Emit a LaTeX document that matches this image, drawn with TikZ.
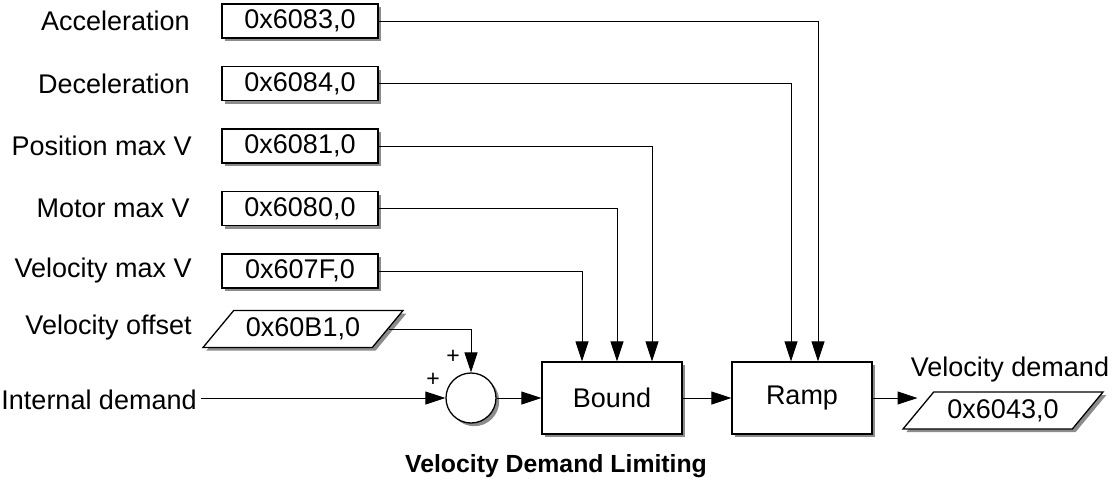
\documentclass[tikz,border=0pt]{standalone}
\usepackage{fontspec}
\setmainfont{Liberation Sans}
\usetikzlibrary{arrows.meta,shapes.geometric,shadows}

\begin{document}
\begin{tikzpicture}[
		x=0.5pt, y=-0.5pt,
		every node/.style={font=\fontsize{13.5}{15}\selectfont},
		boxshadow/.style={drop shadow={shadow xshift=1.6pt, shadow yshift=-1.6pt, fill=black!45, opacity=1}},
		objbox/.style={draw, line width=0.65pt, fill=white, boxshadow, minimum width=78pt, minimum height=17pt, inner sep=0pt},
		iobox/.style={trapezium, trapezium left angle=36, trapezium right angle=144, trapezium stretches body,
			draw, line width=0.65pt, fill=white, boxshadow, minimum width=100pt, minimum height=18.5pt, inner sep=0pt},
		blockbox/.style={draw, line width=0.65pt, fill=white, boxshadow, minimum width=70pt, minimum height=36pt},
		sumnode/.style={circle, draw, line width=0.65pt, fill=white, boxshadow, minimum size=25pt, inner sep=0pt},
		lbl/.style={anchor=east, inner sep=2pt},
		plus/.style={font=\fontsize{11.5}{13}\selectfont, inner sep=0pt},
		conn/.style={line width=0.5pt, -{Triangle[length=10pt, width=6.5pt]}}
	]
	\useasboundingbox (0,0) rectangle (1113,489);

	% object boxes and their names
	\node[lbl] (accname) at (194,21) {Acceleration};
	\node[objbox] (acc) at (300,21) {0x6083,0};
	\node[lbl] (decname) at (194,83.5) {Deceleration};
	\node[objbox] (dec) at (300,83.5) {0x6084,0};
	\node[lbl] (posname) at (196,146) {Position max V};
	\node[objbox] (posmax) at (300,146) {0x6081,0};
	\node[lbl] (motname) at (194,208.5) {Motor max V};
	\node[objbox] (motmax) at (300,208.5) {0x6080,0};
	\node[lbl] (velname) at (196,271) {Velocity max V};
	\node[objbox] (velmax) at (300,271) {0x607F,0};
	\node[lbl] (offname) at (196,328) {Velocity offset};
	\node[iobox] (voff) at (303,329) {0x60B1,0};

	% signal path
	\node[lbl] (intdem) at (201,400) {Internal demand};
	\node[sumnode] (sum) at (471,398) {};
	\node[plus] (plustop) at (453,357) {+};
	\node[plus] (plusleft) at (433,380) {+};
	\node[blockbox] (bound) at (612,398) {Bound};
	\node[blockbox] (ramp) at (802,398) {Ramp};
	\node[iobox] (vdem) at (1003,410.5) {0x6043,0};
	\node (vdemname) at (1010,370) {Velocity demand};

	\node[font=\bfseries\fontsize{12.4}{14}\selectfont] (title) at (556,466) {Velocity Demand Limiting};

	\draw[conn] (acc.east) -| ([xshift=8pt]ramp.north);
	\draw[conn] (dec.east) -| ([xshift=-5.5pt]ramp.north);
	\draw[conn] (posmax.east) -| ([xshift=20pt]bound.north);
	\draw[conn] (motmax.east) -| ([xshift=2.5pt]bound.north);
	\draw[conn] (velmax.east) -| ([xshift=-15pt]bound.north);
	\draw[conn] (voff.east) -| (sum.north);
	\draw[conn] (intdem.east |- sum) -- (sum);
	\draw[conn] (sum) -- (bound);
	\draw[conn] (bound) -- (ramp);
	\draw[conn] (ramp.east) -- (ramp.east -| vdem.west);
\end{tikzpicture}
\end{document}
